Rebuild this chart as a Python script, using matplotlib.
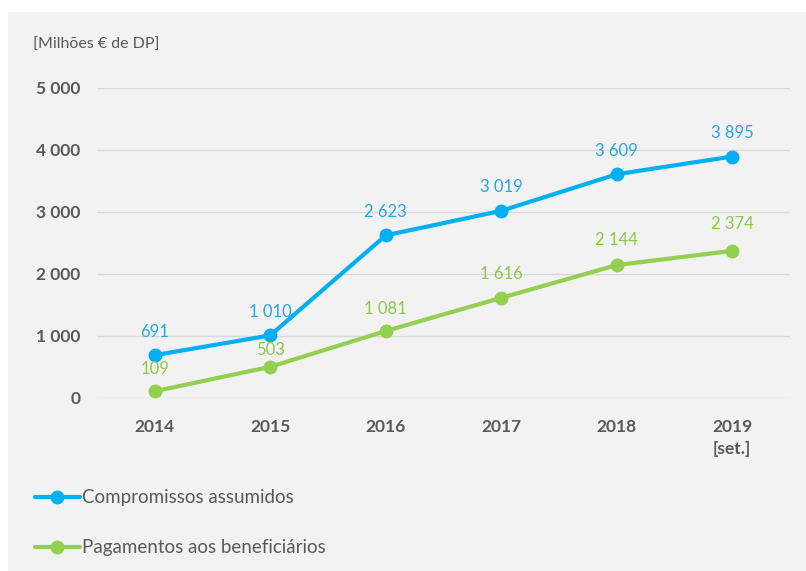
import matplotlib
matplotlib.use("Agg")
import matplotlib.pyplot as plt

# data
years = ["2014", "2015", "2016", "2017", "2018", "2019\n[set.]"]
compromissos = [691, 1010, 2623, 3019, 3609, 3895]
pagamentos = [109, 503, 1081, 1616, 2144, 2374]
yticks = [0, 1000, 2000, 3000, 4000, 5000]

BLUE = "#00B0F0"
BLUE_TXT = "#2AA6DE"
GREEN = "#92D050"
GREEN_TXT = "#8CC84B"
GREY_TXT = "#595959"
BG = "#F2F2F2"

plt.rcParams["font.family"] = ["Lato", "DejaVu Sans"]


def fmt(v):
    # thousands separated by a space, pt-PT style
    return f"{v:,}".replace(",", " ")


fig = plt.figure(figsize=(8.06, 5.71), dpi=100)
fig.patch.set_facecolor("white")
# grey panel, white strip on top and left
fig.patches.append(plt.Rectangle((8 / 806, 0), 1, 1 - 12 / 571, transform=fig.transFigure,
                                 facecolor=BG, edgecolor="none", zorder=-10))

ax = fig.add_axes([97 / 806, (571 - 398) / 571, (790 - 97) / 806, (398 - 88) / 571])
ax.set_facecolor("none")
ax.set_zorder(2)

x = list(range(len(years)))
ax.plot(x, compromissos, color=BLUE, lw=3, marker="o", ms=9, clip_on=False, zorder=3,
        solid_capstyle="round", label="Compromissos assumidos")
ax.plot(x, pagamentos, color=GREEN, lw=3, marker="o", ms=9, clip_on=False, zorder=3,
        solid_capstyle="round", label="Pagamentos aos beneficiários")

for xi, v in zip(x, compromissos):
    ax.annotate(fmt(v), (xi, v), xytext=(0, 17), textcoords="offset points",
                ha="center", va="center", fontsize=12, color=BLUE_TXT)
green_off = [16, 12, 16, 17, 18, 19]
for xi, v, off in zip(x, pagamentos, green_off):
    ax.annotate(fmt(v), (xi, v), xytext=(0, off), textcoords="offset points",
                ha="center", va="center", fontsize=12, color=GREEN_TXT)

ax.set_xlim(-0.5, 5.5)
ax.set_ylim(0, 5000)
ax.set_yticks(yticks)
ax.set_yticklabels([fmt(v) for v in yticks], fontsize=12.5, fontweight="bold", color=GREY_TXT)
ax.set_xticks(x)
ax.set_xticklabels(years, fontsize=12.5, fontweight="bold", color=GREY_TXT, va="top",
                   linespacing=1.45)
ax.tick_params(axis="y", length=0, pad=12)
ax.tick_params(axis="x", length=0, pad=15)
ax.grid(axis="y", color="#D9D9D9", lw=1)
ax.set_axisbelow(True)
for s in ax.spines.values():
    s.set_visible(False)

fig.text(33 / 806, 1 - 45 / 571, "[Milhões € de DP]", fontsize=11.5, color=GREY_TXT,
         va="center", ha="left")

leg = fig.legend(loc="upper left", bbox_to_anchor=(27 / 806, 1 - 482 / 571),
                 frameon=False, fontsize=13.5, labelcolor=GREY_TXT, handlelength=2.45,
                 handletextpad=0.1, labelspacing=1.75, borderaxespad=0)

fig.savefig("out.png", dpi=100, facecolor=fig.get_facecolor())
